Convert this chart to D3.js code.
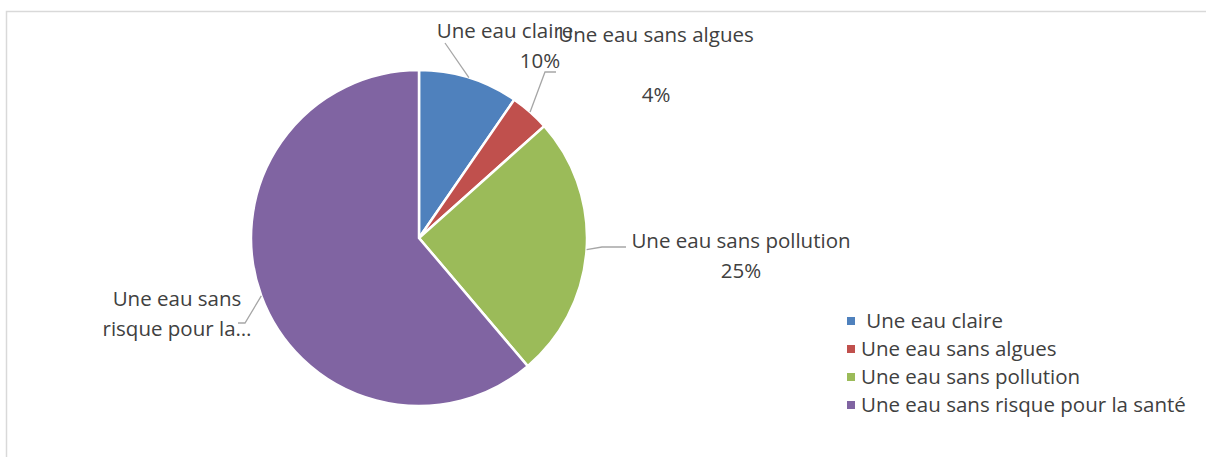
<!DOCTYPE html>
<html>
<head>
<meta charset="utf-8">
<script src="https://cdnjs.cloudflare.com/ajax/libs/d3/7.8.5/d3.min.js"></script>
<style>
  body { margin: 0; background: #fff; }
  svg text { font-family: "Open Sans", sans-serif; fill: #404040; }
</style>
</head>
<body>
<svg id="chart" width="1206" height="457"></svg>
<script>
// categories and shares (percent)
const categories = ["Une eau claire", "Une eau sans algues", "Une eau sans pollution", "Une eau sans risque pour la santé"]
const values = [9.6, 3.8, 25.4, 61.2]
const colors = ["#4f81bd", "#c0504d", "#9bbb59", "#8064a2"]
const legendLabels = [" Une eau claire", "Une eau sans algues", "Une eau sans pollution", "Une eau sans risque pour la santé"]

const svg = d3.select("#chart")
const W = 1206, H = 457
const cx = 419, cy = 238, R = 168
const fontSize = "20.5px"

// chart frame
svg.append("path")
  .attr("d", `M6.5,${H} V11.5 H${W}`)
  .attr("fill", "none")
  .attr("stroke", "#d9d9d9")
  .attr("stroke-width", 1.5)

const total = d3.sum(values)
const pie = d3.pie().sort(null).value(d => d)
const arcs = pie(values)
const arc = d3.arc().innerRadius(0).outerRadius(R)

const g = svg.append("g").attr("transform", `translate(${cx},${cy})`)
g.selectAll("path.slice")
  .data(arcs)
  .join("path")
  .attr("class", "slice")
  .attr("d", arc)
  .attr("fill", (d, i) => colors[i])
  .attr("stroke", "#fff")
  .attr("stroke-width", 2.5)

const pct = v => Math.round(v / total * 100) + "%"

// label placement
const labels = [
  { lines: [categories[0], pct(values[0])], x: [505, 540], y: [38, 68], lead: [[470, 77], [445, 43]] },
  { lines: [categories[1], pct(values[1])], x: [656, 656], y: [42, 102], lead: [[531, 111], [545, 72], [556, 72]] },
  { lines: [categories[2], pct(values[2])], x: [741, 741], y: [248, 278], lead: [[587, 250], [602, 247], [626, 247]] },
  { lines: ["Une eau sans", "risque pour la…"], x: [177, 177], y: [306, 336], lead: [[262, 293], [245, 323], [238, 323]] }
]

labels.forEach((l, i) => {
  // leader line starts on the slice edge at the mid angle
  const a = (arcs[i].startAngle + arcs[i].endAngle) / 2
  const start = [cx + Math.sin(a) * R, cy - Math.cos(a) * R]
  const pts = [start].concat(l.lead.slice(1))
  svg.append("path")
    .attr("d", d3.line()(pts))
    .attr("fill", "none")
    .attr("stroke", "#a6a6a6")
    .attr("stroke-width", 1.3)
  l.lines.forEach((t, j) => {
    svg.append("text")
      .attr("x", l.x[j])
      .attr("y", l.y[j])
      .attr("text-anchor", "middle")
      .style("font-size", fontSize)
      .text(t)
  })
})

// legend
const leg = svg.append("g")
const rowY = d3.scalePoint().domain(d3.range(categories.length)).range([321, 405])
legendLabels.forEach((t, i) => {
  leg.append("rect")
    .attr("x", 847)
    .attr("y", rowY(i) - 4)
    .attr("width", 8)
    .attr("height", 8)
    .attr("fill", colors[i])
  leg.append("text")
    .attr("x", 861)
    .attr("y", rowY(i) + 7)
    .attr("xml:space", "preserve")
    .style("white-space", "pre")
    .style("font-size", fontSize)
    .text(t)
})
</script>
</body>
</html>
